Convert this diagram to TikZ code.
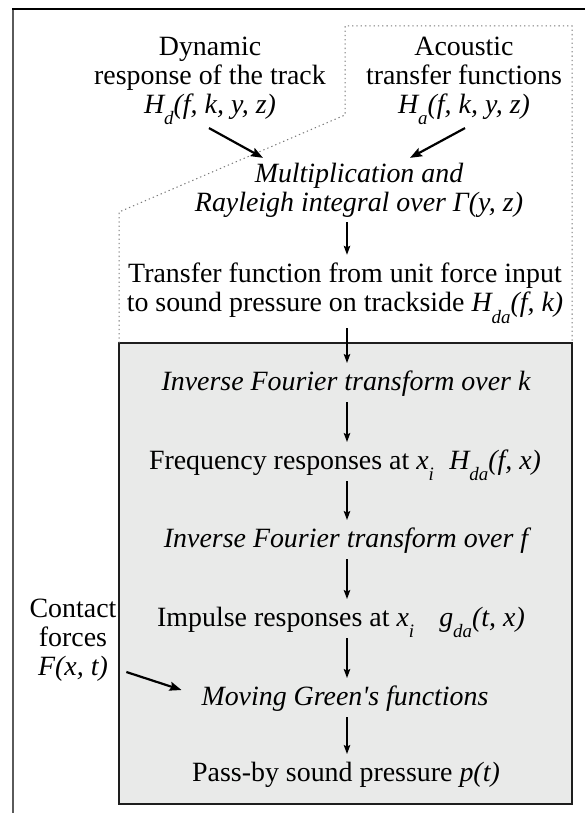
\documentclass[tikz,border=0pt]{standalone}
\usepackage{fontspec}
\setmainfont{Liberation Serif}
\usetikzlibrary{arrows.meta,calc}
\definecolor{boxfill}{RGB}{233,234,233}
\definecolor{boxline}{RGB}{30,30,30}
\definecolor{framegray}{RGB}{90,90,90}
\definecolor{dotgray}{RGB}{120,120,120}
\newcommand{\sbx}[1]{\raisebox{-0.42em}{\fontsize{19}{19}\selectfont #1}}
\tikzset{
  txt/.style={font=\fontsize{28}{29}\selectfont, align=center, inner sep=0pt, outer sep=0pt},
  one/.style={txt, text height=19bp, text depth=7bp, anchor=base},
  varr/.style={line width=1.4bp, -{Stealth[length=9bp,width=6.5bp,inset=1.5bp]}, shorten <=5bp, shorten >=8bp},
  darr/.style={line width=2.2bp, -{Stealth[length=12bp,width=9bp,inset=2bp]}},
}
\begin{document}
\begin{tikzpicture}[x=1bp,y=-1bp]
\useasboundingbox (0,0) rectangle (585,813);
% outer frame
\draw[framegray, line width=2bp] (13,813) -- (13,9);
\draw[black, line width=2bp] (12,9) -- (585,9);
% gray box
\draw[boxline, fill=boxfill, line width=2.8bp] (119,343) rectangle (572,804);
% dotted region
\draw[dotgray, line width=1bp, dash pattern=on 1.3bp off 3bp]
  (119,343) -- (119,212) -- (345,115) -- (345,26) -- (572,26) -- (572,343);
\coordinate (ax) at (347,0);
% nodes
\node[txt] (dyn) at (210,81) {Dynamic\\response of the track\\\textit{H\sbx{d}(f, k, y, z)}};
\node[txt] (aco) at (464,81) {Acoustic\\transfer functions\\\textit{H\sbx{a}(f, k, y, z)}};
\node[txt, font=\fontsize{28}{29}\selectfont\itshape] (mult) at (359,190) {Multiplication and\\Rayleigh integral over Γ(y, z)};
\node[txt] (tf) at (345,293) {Transfer function from unit force input\\to sound pressure on trackside \textit{H\sbx{da}(f, k)}};
\node[one, font=\fontsize{28}{29}\selectfont\itshape] (ifk) at (346,390) {Inverse Fourier transform over k};
\node[one] (fr) at (345,469) {Frequency responses at \textit{x\sbx{i}}\hspace{0.55em}\textit{H\sbx{da}(f, x)}};
\node[one, font=\fontsize{28}{29}\selectfont\itshape] (iff) at (346,547) {Inverse Fourier transform over f};
\node[one] (imp) at (341,626) {Impulse responses at \textit{x\sbx{i}}\hspace{0.9em}\textit{g\sbx{da}(t, x)}};
\node[one, font=\fontsize{28}{29}\selectfont\itshape] (mg) at (345,705) {Moving Green\textquotesingle s functions};
\node[one] (pb) at (346,781) {Pass-by sound pressure \textit{p(t)}};
\node[txt] (cf) at (73,640) {Contact\\forces\\\textit{F(x, t)}};
% arrows
\draw[darr] ([xshift=-1bp,yshift=-3bp]dyn.south) -- ([xshift=-96bp,yshift=5bp]mult.north);
\draw[darr] ([xshift=1bp,yshift=-3bp]aco.south) -- ([xshift=51bp,yshift=5bp]mult.north);
\draw[varr] (mult.south -| ax) -- (tf.north -| ax);
\draw[varr] (tf.south -| ax) -- (ifk.north -| ax);
\draw[varr] (ifk.south -| ax) -- (fr.north -| ax);
\draw[varr] (fr.south -| ax) -- (iff.north -| ax);
\draw[varr] (iff.south -| ax) -- (imp.north -| ax);
\draw[varr] (imp.south -| ax) -- (mg.north -| ax);
\draw[varr] (mg.south -| ax) -- (pb.north -| ax);
\draw[darr] ([xshift=10bp,yshift=-32bp]cf.east) -- ([xshift=-20bp,yshift=9bp]mg.west);
\end{tikzpicture}
\end{document}
